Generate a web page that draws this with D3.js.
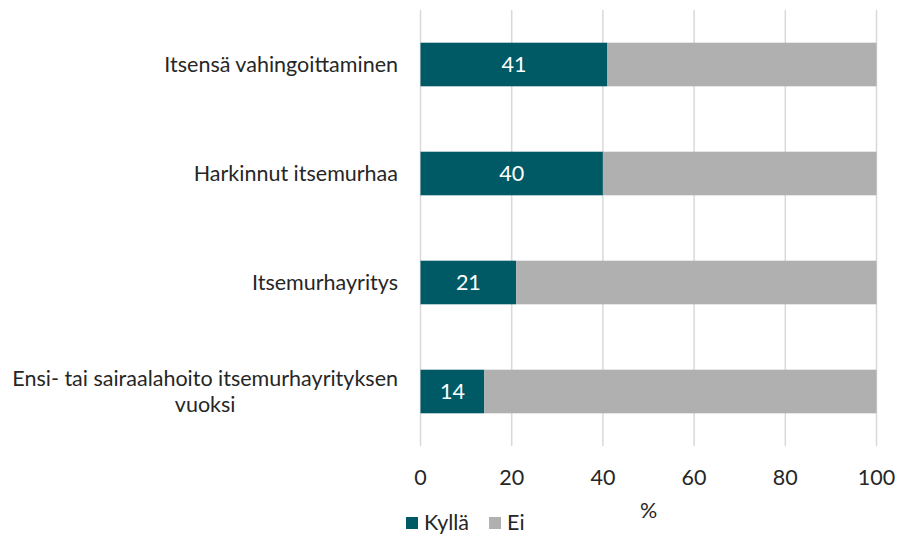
<!DOCTYPE html>
<html><head><meta charset="utf-8">
<script src="https://cdn.jsdelivr.net/npm/d3@7"></script>
<style>body{margin:0;background:#fff}svg{display:block}text{font-family:Lato,"Open Sans",sans-serif}</style>
</head><body><svg id="c" width="899" height="536"></svg>
<script>
const categories = ["Itsensä vahingoittaminen","Harkinnut itsemurhaa","Itsemurhayritys","Ensi- tai sairaalahoito itsemurhayrityksen vuoksi"];
const categoryLines = [["Itsensä vahingoittaminen"],["Harkinnut itsemurhaa"],["Itsemurhayritys"],["Ensi- tai sairaalahoito itsemurhayrityksen","vuoksi"]];
const kylla = [41,40,21,14];
const ei = [59,60,79,86];
const ticks = [0,20,40,60,80,100];
const seriesNames = ["Kyllä","Ei"];
const colors = ["#005A66","#B0B0B0"];
const FS = 21.5;

const svg = d3.select("#c");
const x = d3.scaleLinear().domain([0,100]).range([420.5,876.5]);
const y = d3.scaleBand().domain(categories).range([10,446]).paddingInner(0.6).paddingOuter(0.3);

svg.append("g").selectAll("line").data(ticks).join("line")
  .attr("x1",d=>x(d)).attr("x2",d=>x(d)).attr("y1",10).attr("y2",446)
  .attr("stroke","#D9D9D9").attr("stroke-width",1.5);

const rows = categories.map((c,i)=>({c,k:kylla[i],e:ei[i]}));
svg.append("g").selectAll("rect").data(rows).join("rect")
  .attr("x",x(0)).attr("y",d=>y(d.c)).attr("width",d=>x(d.k)-x(0)).attr("height",y.bandwidth()).attr("fill",colors[0]);
svg.append("g").selectAll("rect").data(rows).join("rect")
  .attr("x",d=>x(d.k)).attr("y",d=>y(d.c)).attr("width",d=>x(d.k+d.e)-x(d.k)).attr("height",y.bandwidth()).attr("fill",colors[1]);
svg.append("g").selectAll("text").data(rows).join("text")
  .attr("x",d=>x(d.k/2)).attr("y",d=>y(d.c)+y.bandwidth()/2).attr("dy","0.35em")
  .attr("text-anchor","middle").attr("fill","#fff").attr("font-size",FS).text(d=>d.k);

const lab = svg.append("g");
categories.forEach((c,i)=>{
  const lines = categoryLines[i];
  const cy = y(c)+y.bandwidth()/2;
  const lh = 26;
  const t = lab.append("text").attr("font-size",FS).attr("fill","#262626");
  lines.forEach((l,j)=>{
    t.append("tspan").attr("x",0).attr("y",cy+(j-(lines.length-1)/2)*lh).attr("dy","0.35em").text(l);
  });
  const widths = [];
  t.selectAll("tspan").each(function(){widths.push(this.getComputedTextLength());});
  const maxW = d3.max(widths);
  t.selectAll("tspan").attr("x",(d,j)=>398 - maxW + (maxW-widths[j])/2);
});

svg.append("g").selectAll("text").data(ticks).join("text")
  .attr("x",d=>x(d)).attr("y",477).attr("dy","0.35em").attr("text-anchor","middle")
  .attr("font-size",FS).attr("fill","#262626").text(d=>d);
svg.append("text").attr("x",x(50)).attr("y",510).attr("dy","0.35em").attr("text-anchor","middle")
  .attr("font-size",FS).attr("fill","#262626").text("%");

const lg = svg.append("g");
let lx = 406;
seriesNames.forEach((n,i)=>{
  lg.append("rect").attr("x",lx).attr("y",517).attr("width",12).attr("height",12).attr("fill",colors[i]);
  const t = lg.append("text").attr("x",lx+18).attr("y",522).attr("dy","0.35em").attr("font-size",FS).attr("fill","#262626").text(n);
  lx += 18 + t.node().getComputedTextLength() + 20;
});
</script></body></html>
